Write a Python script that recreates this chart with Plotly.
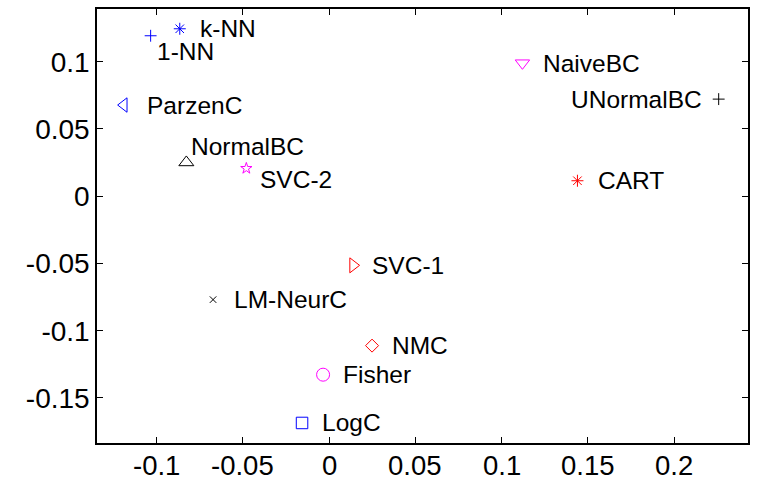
import plotly.graph_objects as go

names = ["1-NN", "k-NN", "ParzenC", "NormalBC", "SVC-2", "NaiveBC", "UNormalBC",
         "CART", "SVC-1", "LM-NeurC", "NMC", "Fisher", "LogC"]
xs = [-0.1035, -0.0866, -0.1190, -0.0828, -0.0480, 0.1121, 0.2259,
      0.1440, 0.0139, -0.0673, 0.0249, -0.0035, -0.0157]
ys = [0.1193, 0.1245, 0.0678, 0.0251, 0.0207, 0.0990, 0.0722,
      0.0115, -0.0514, -0.0769, -0.1111, -0.1327, -0.1686]
colors = ["#0000ff", "#0000ff", "#0000ff", "#000000", "#ff00ff", "#ff00ff", "#000000",
          "#ff0000", "#ff0000", "#000000", "#ff0000", "#ff00ff", "#0000ff"]
symbols = ["cross-thin-open", "asterisk-open", "triangle-left-open", "triangle-up-open",
           "star-open", "triangle-down-open", "cross-thin-open", "asterisk-open",
           "triangle-right-open", "x-thin-open", "diamond-open", "circle-open", "square-open"]
sizes = [8.5, 10, 12.5, 13, 8.5, 12.5, 8.5, 10, 13, 6.5, 10, 13, 11.5]

# label placement (pixels relative to marker)
label_anchor = ["left", "left", "left", "left", "left", "left", "right",
                "left", "left", "left", "left", "left", "left"]
label_dx = [4, 18, 21, 3, 12, 19, -15, 19, 17, 19, 18, 18, 18]
label_dy = [-16, 0, 0, 16, -11, 0, 0, 0, 0, 0, 0, 0, 0]

xticks = [-0.1, -0.05, 0, 0.05, 0.1, 0.15, 0.2]
yticks = [-0.15, -0.1, -0.05, 0, 0.05, 0.1]
xticklabels = ["-0.1", "-0.05", "0", "0.05", "0.1", "0.15", "0.2"]
yticklabels = ["-0.15", "-0.1", "-0.05", "0", "0.05", "0.1"]

FONT = "Liberation Sans, Arial, Helvetica"

fig = go.Figure()
for i in range(len(names)):
    fig.add_trace(go.Scatter(
        x=[xs[i]], y=[ys[i]], mode="markers", name=names[i],
        marker=dict(symbol=symbols[i], size=sizes[i], color=colors[i],
                    line=dict(color=colors[i], width=1)),
        showlegend=False, hoverinfo="skip"))
    fig.add_annotation(x=xs[i], y=ys[i], text=names[i], showarrow=False,
                       xanchor=label_anchor[i], yanchor="middle",
                       xshift=label_dx[i], yshift=label_dy[i],
                       font=dict(family=FONT, size=24.5, color="black"))

# x tick labels placed along the x axis scale
for xv, xt in zip(xticks, xticklabels):
    fig.add_annotation(x=xv, y=0, xref="x", yref="paper", text=xt, showarrow=False,
                       xanchor="center", yanchor="top", yshift=-5,
                       font=dict(family=FONT, size=27.5, color="black"))

axis_common = dict(showline=True, linecolor="black", linewidth=1.5, mirror="ticks",
                   ticks="inside", ticklen=6, tickwidth=1, tickcolor="black",
                   showgrid=False, zeroline=False, automargin=False,
                   tickfont=dict(family=FONT, size=28, color="black"))

fig.update_xaxes(range=[-0.1346, 0.2429], tickvals=xticks, ticktext=xticklabels,
                 showticklabels=False, **axis_common)
fig.update_yaxes(range=[-0.1835, 0.1392], tickvals=yticks, ticktext=yticklabels,
                 ticklabelstandoff=0, **axis_common)

fig.update_layout(width=758, height=480, margin=dict(l=97, r=10, t=9, b=37),
                  plot_bgcolor="white", paper_bgcolor="white")
fig.write_html("out.html")
